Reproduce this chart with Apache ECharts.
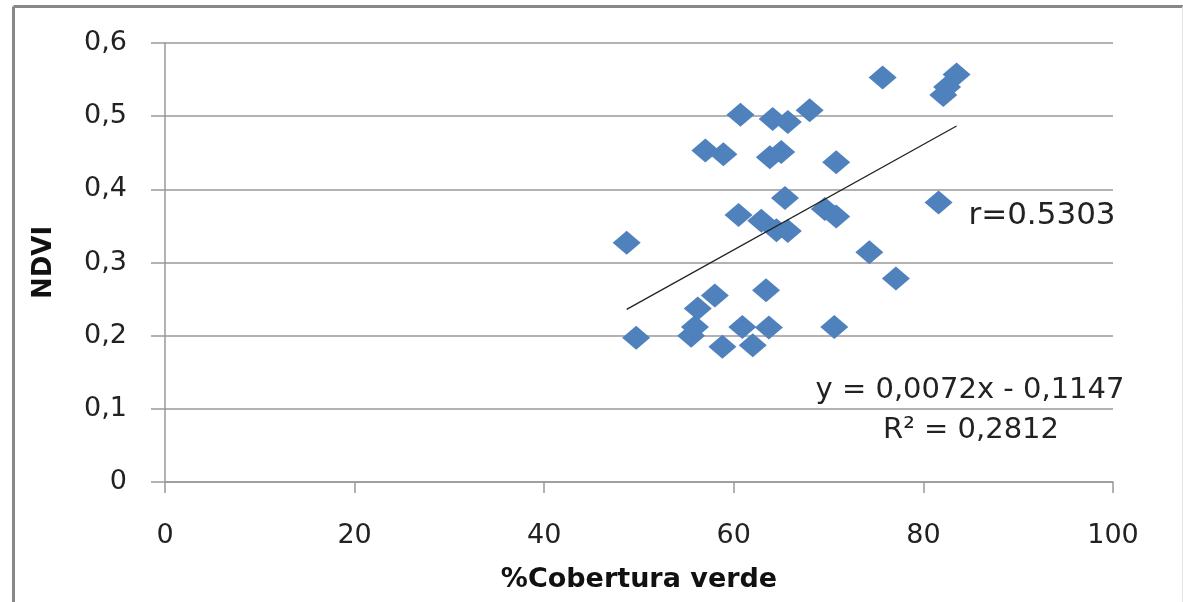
<!DOCTYPE html>
<html>
<head>
<meta charset="utf-8">
<script src="https://cdn.jsdelivr.net/npm/echarts@6/dist/echarts.min.js"></script>
<style>
html,body{margin:0;padding:0;background:#fff;}
#c{width:1183px;height:602px;}
</style>
</head>
<body>
<div id="c"></div>
<script>
// % green cover (x) and NDVI (y)
const coverPct = [48.7, 49.7, 55.5, 55.9, 56.2, 58.0, 58.8, 60.9, 62.0, 63.4, 63.7, 70.6,
  57.0, 58.9, 60.7, 64.1, 65.7, 68.0, 63.8, 65.0, 70.8, 75.7,
  65.4, 60.5, 62.9, 64.5, 65.7, 69.6, 70.8, 74.3, 77.1,
  81.6, 82.1, 82.5, 83.5];
const ndvi = [0.327, 0.197, 0.200, 0.212, 0.237, 0.255, 0.185, 0.212, 0.187, 0.262, 0.211, 0.212,
  0.453, 0.448, 0.502, 0.496, 0.492, 0.508, 0.444, 0.451, 0.437, 0.553,
  0.388, 0.365, 0.357, 0.344, 0.343, 0.373, 0.363, 0.314, 0.278,
  0.382, 0.529, 0.540, 0.557];
const trendSlope = 0.0072;
const trendIntercept = -0.1147;
const xTickLabels = ['0', '20', '40', '60', '80', '100'];
const yTickLabels = ['0', '0,1', '0,2', '0,3', '0,4', '0,5', '0,6'];
const eqText = 'y = 0,0072x - 0,1147';
const r2Text = 'R² = 0,2812';
const rText = 'r=0.5303';

const points = coverPct.map((x, i) => [x, ndvi[i]]);
const xMin = Math.min(...coverPct), xMax = Math.max(...coverPct);
const trend = [[xMin, trendSlope * xMin + trendIntercept], [xMax, trendSlope * xMax + trendIntercept]];

const FONT = 'DejaVu Sans';
const chart = echarts.init(document.getElementById('c'), null, {renderer: 'canvas'});
chart.setOption({
  animation: false,
  backgroundColor: '#fff',
  grid: {left: 165, right: 70, top: 43, bottom: 120, containLabel: false},
  xAxis: {
    type: 'value', min: 0, max: 100, interval: 20,
    name: '%Cobertura verde', nameLocation: 'middle', nameGap: 84,
    nameTextStyle: {fontFamily: FONT, fontWeight: 'bold', fontSize: 27, color: '#111'},
    axisLine: {show: true, onZero: false, lineStyle: {color: '#999', width: 1.5}},
    axisTick: {show: true, inside: false, length: 11, lineStyle: {color: '#999', width: 1.5}},
    axisLabel: {margin: 40, fontFamily: FONT, fontSize: 27, color: '#222',
      formatter: (v) => xTickLabels[Math.round(v / 20)]},
    splitLine: {show: false}
  },
  yAxis: {
    type: 'value', min: 0, max: 0.6, interval: 0.1,
    name: 'NDVI', nameLocation: 'middle', nameGap: 108, nameRotate: 90,
    nameTextStyle: {fontFamily: FONT, fontWeight: 'bold', fontSize: 26, color: '#111'},
    axisLine: {show: true, lineStyle: {color: '#999', width: 1.5}},
    axisTick: {show: true, inside: false, length: 14, lineStyle: {color: '#999', width: 1.5}},
    axisLabel: {margin: 38, fontFamily: FONT, fontSize: 27, color: '#222',
      formatter: (v) => yTickLabels[Math.round(v * 10)]},
    splitLine: {show: true, lineStyle: {color: '#999', width: 1.5}}
  },
  series: [
    {
      type: 'scatter', data: points, symbol: 'diamond', symbolSize: [28, 24],
      itemStyle: {color: '#4F81BD', opacity: 1}, z: 3
    },
    {
      type: 'line', data: trend, symbol: 'none', silent: true,
      lineStyle: {color: '#222', width: 1.3}, z: 4
    }
  ],
  graphic: [
    {type: 'line', shape: {x1: 13.5, y1: 6.5, x2: 1183, y2: 6.5}, style: {stroke: '#888', lineWidth: 3}, z: 10},
    {type: 'line', shape: {x1: 13.5, y1: 6.5, x2: 13.5, y2: 602}, style: {stroke: '#888', lineWidth: 3}, z: 10},
    {type: 'line', shape: {x1: 1182.5, y1: 6.5, x2: 1182.5, y2: 602}, style: {stroke: '#e4e4e4', lineWidth: 1}, z: 10},
    {type: 'text', x: 1042, y: 216, style: {text: rText, fontFamily: FONT, fontSize: 31, fill: '#222', align: 'center', verticalAlign: 'middle'}, z: 10},
    {type: 'text', x: 970, y: 390, style: {text: eqText, fontFamily: FONT, fontSize: 29, fill: '#222', align: 'center', verticalAlign: 'middle'}, z: 10},
    {type: 'text', x: 971, y: 430, style: {text: r2Text, fontFamily: FONT, fontSize: 29, fill: '#222', align: 'center', verticalAlign: 'middle'}, z: 10}
  ]
});
</script>
</body>
</html>
